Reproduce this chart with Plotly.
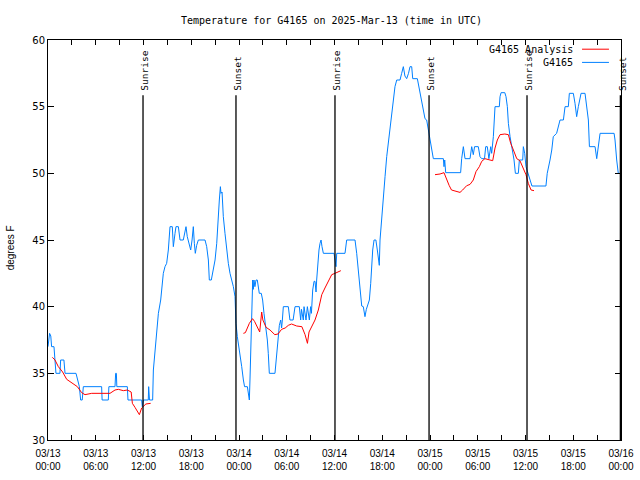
import datetime as dt
import plotly.graph_objects as go

START = dt.datetime(2025, 3, 13, 0, 0)

# Observed station temperature (hours since 03/13 00:00 UTC, degrees F)
obs_hours = [0.0, 0.1, 0.2, 0.35, 0.45, 0.75, 0.88, 1.0, 1.5, 1.59, 2.0, 2.14, 3.52, 3.94, 4.1, 4.3, 4.44,
             6.74, 6.8, 7.58, 7.65, 8.42, 8.5, 8.59, 8.65, 9.97, 10.05, 11.77, 11.85, 12.0, 12.6, 12.65, 12.75,
             13.15, 13.24, 13.45, 13.66, 13.87, 14.16, 14.49, 14.7, 14.91, 15.12, 15.33, 15.62, 15.75, 15.96,
             16.08, 16.38, 16.59, 17.0, 17.22, 17.34, 17.5, 17.76, 17.93, 18.1, 18.26, 18.39, 18.51, 18.68,
             18.89, 19.73, 19.94, 20.15, 20.27, 20.52, 20.77, 20.99, 21.2, 21.36, 21.53, 21.66, 21.74, 21.87,
             22.03, 22.24, 22.46, 22.66, 22.87, 23.08, 23.29, 23.5, 23.62, 23.79, 23.92, 24.13, 24.34, 24.55,
             24.7, 25.05, 25.17, 25.3, 25.38, 25.5, 25.63, 25.72, 25.8, 25.88, 26.0, 26.14, 26.3, 26.47, 26.55,
             26.8, 26.97, 27.14, 27.39, 27.56, 27.68, 27.81, 28.52, 28.65, 28.8, 28.94, 29.07, 29.24, 29.35,
             29.45, 29.57, 30.2, 30.4, 30.8, 31.04, 31.58, 31.75, 31.85, 32.08, 32.17, 32.42, 32.59, 32.84,
             33.0, 33.1, 33.26, 33.43, 33.55, 33.68, 33.76, 33.89, 34.05, 34.18, 34.31, 34.43, 34.6, 35.94,
             36.06, 36.19, 36.28, 37.32, 37.53, 38.58, 38.79, 38.99, 39.2, 39.42, 39.62, 39.83, 40.0, 40.13,
             40.38, 40.55, 40.8, 40.97, 41.2, 41.38, 41.51, 41.63, 41.72, 41.93, 42.14, 42.35, 42.56, 42.76,
             42.98, 43.19, 43.39, 43.6, 43.82, 44.23, 44.44, 44.65, 44.85, 45.07, 45.3, 45.49, 45.7, 45.83,
             46.41, 46.53, 46.75, 46.95, 47.16, 47.37, 47.58, 47.79, 48.0, 48.2, 48.42, 49.68, 49.76, 49.85,
             49.97, 51.85, 51.98, 52.19, 52.4, 53.03, 53.24, 53.44, 53.6, 54.07, 54.28, 54.5, 54.85, 55.0,
             55.2, 55.4, 55.63, 55.75, 55.96, 56.17, 56.71, 56.8, 56.93, 57.4, 57.55, 57.72, 57.85, 58.06,
             58.27, 58.56, 58.73, 59.1, 59.23, 59.65, 59.73, 59.9, 60.06, 60.35, 60.56, 60.81, 62.57, 62.73,
             63.08, 63.3, 63.49, 63.91, 64.34, 64.76, 64.97, 65.38, 65.51, 66.01, 66.22, 66.43, 66.64, 66.85,
             66.98, 67.48, 67.7, 67.9, 68.03, 68.74, 68.95, 69.16, 69.37, 71.13, 71.25, 71.46, 71.66, 71.88]
obs_temp = [37, 37.8, 38, 37.8, 37, 37, 36, 35, 35, 36, 36, 35, 35, 34, 33, 33, 34,
            34, 33, 33, 34, 34, 35, 35, 34, 34, 33, 33, 32.5, 33, 33, 34, 33,
            33, 35.25, 36.75, 38, 39.5, 40.5, 42.5, 43, 43.25, 44.25, 46, 46, 44.5, 45.5,
            46, 46, 45, 45, 45.75, 46, 45.25, 44.5, 44.25, 45, 46, 44.75, 44, 44.6,
            45, 45, 44.5, 43.5, 42, 42, 42.75, 43.5, 44.75, 46.75, 48, 49, 48.5, 48.6,
            46.75, 45.5, 44.25, 43.25, 42.5, 42, 41.5, 40.75, 38.75, 37.75, 37.25, 36.5, 35.5, 34.5,
            34, 34, 33.25, 33, 34.5, 37.5, 40.5, 42, 41.3, 42, 41.5, 42, 42, 41.5, 41,
            41, 40.5, 39.5, 38.5, 37.5, 36.5, 35, 35, 36, 37.25, 38, 38.6, 39, 38.4,
            39, 40, 40, 39, 39, 40, 40, 39, 39.8, 39, 40, 39, 40, 39,
            40, 39.5, 41.25, 41.9, 41.9, 41.1, 42, 43.25, 44.25, 44.75, 45, 44.5, 44, 44,
            43.6, 43, 44, 44, 45, 45, 44, 42.75, 41.25, 40.05, 40, 39.25, 39.8, 40,
            40.5, 41.75, 44.25, 45, 45, 44.25, 43.5, 43.1, 45, 46.75, 48.75, 49.75, 51.25, 52.25,
            53.5, 54.75, 55.75, 56.5, 57, 57, 57.5, 58, 57.3, 57.1, 57.5, 58, 58, 57.1,
            57.1, 56.75, 56, 55.5, 54.75, 54.1, 54, 53.25, 52.5, 52, 51.1, 51.1, 50.5, 51,
            50.05, 50.05, 51.1, 52, 51.1, 51.1, 52, 51.4, 52, 52, 51.25, 51.1, 51.1, 52,
            52, 51.1, 52, 51.5, 52.75, 55, 55, 55.75, 56.05, 56.05, 55.75, 55, 53.75, 52.75,
            52, 51, 50, 50, 51, 51, 52, 51.5, 50.5, 50, 49.5, 49.05, 49.05, 50,
            51, 51.75, 52.75, 53, 54, 54, 55, 55, 56, 56, 55.25, 54.25, 55, 55.75,
            56, 56, 55, 54, 52, 52, 51.1, 52, 53, 53, 52.5, 51, 50, 50]

# Analysis temperature (three separate runs, None marks the gaps)
ana_hours = [0.55, 0.88, 1.3, 1.84, 2.35, 2.97, 3.69, 4.23, 4.65, 5.49, 7.79, 8.42, 8.84, 9.47, 9.97,
             10.45, 10.6, 10.93, 11.48, 11.77, 12.3, 12.9, None,
             24.55, 24.8, 25.3, 25.7, 25.95, 26.4, 26.6, 26.85, 27.0, 27.4, 27.9, 28.5, 28.9, 29.35, 29.8,
             30.2, 30.6, 31.25, 31.9, 32.3, 32.6, 32.8, 33.1, 33.55, 33.97, 34.4, 34.8, 35.2, 35.65, 36.06,
             36.5, 36.8, None,
             48.63, 49.26, 49.76, 50.1, 50.4, 50.7, 51.1, 51.77, 52.1, 52.6, 53.03, 53.44, 53.78, 54.2,
             54.5, 54.9, 55.54, 55.88, 56.17, 56.46, 56.8, 57.4, 57.85, 58.14, 58.48, 58.9, 59.3, 59.65,
             60.06, 60.35, 60.7, 61.07]
ana_temp = [36.2, 36.0, 35.5, 35.1, 34.55, 34.3, 34.0, 33.55, 33.4, 33.5, 33.5, 33.75, 33.8, 33.7, 33.75,
            33.6, 32.75, 32.45, 31.9, 32.4, 32.7, 32.75, None,
            38.0, 38.05, 38.75, 39.1, 38.9, 38.4, 38.1, 39.6, 39.0, 38.45, 38.25, 37.9, 37.95, 38.3, 38.4,
            38.6, 38.7, 38.55, 38.5, 37.9, 37.25, 38.1, 38.5, 39.0, 39.75, 40.9, 41.4, 41.9, 42.4, 42.5,
            42.6, 42.7, None,
            49.9, 49.95, 50.05, 49.5, 49.1, 48.75, 48.7, 48.57, 48.75, 49.07, 49.17, 49.5, 50.13, 50.5,
            50.9, 51.1, 51.0, 50.95, 51.9, 52.5, 52.9, 52.95, 52.9, 52.25, 51.75, 51.1, 50.95, 50.4,
            49.9, 49.25, 48.75, 48.7]

# Sunrise / sunset events (hours since start)
sun_hours = [11.94, 23.62, 36.06, 47.88, 60.19, 71.92]
sun_labels = ["Sunrise", "Sunset", "Sunrise", "Sunset", "Sunrise", "Sunset"]

series_names = ["G4165 Analysis", "G4165"]
series_colors = ["#ff0000", "#0080ff"]

# x tick labels: date line and time line
tick_dates = ["03/13", "03/13", "03/13", "03/13", "03/14", "03/14", "03/14", "03/14",
              "03/15", "03/15", "03/15", "03/15", "03/16"]
tick_times = ["00:00", "06:00", "12:00", "18:00", "00:00", "06:00", "12:00", "18:00",
              "00:00", "06:00", "12:00", "18:00", "00:00"]

MONO = "DejaVu Sans Mono"
XFONT = dict(family="Liberation Sans", size=10, color="black")


def to_time(h):
    return None if h is None else START + dt.timedelta(hours=h)


fig = go.Figure()
fig.add_trace(go.Scatter(x=[to_time(h) for h in obs_hours], y=obs_temp, mode="lines",
                         line=dict(color=series_colors[1], width=1), name=series_names[1],
                         showlegend=False, hoverinfo="skip"))
fig.add_trace(go.Scatter(x=[to_time(h) for h in ana_hours], y=ana_temp, mode="lines",
                         line=dict(color=series_colors[0], width=1), name=series_names[0],
                         connectgaps=False, showlegend=False, hoverinfo="skip"))
# invisible trace to activate the second (time-of-day label) x axis
fig.add_trace(go.Scatter(x=[START], y=[None], xaxis="x2", yaxis="y", mode="lines",
                         showlegend=False, hoverinfo="skip"))

for h, lab in zip(sun_hours, sun_labels):
    t = to_time(h)
    fig.add_shape(type="line", xref="x", yref="y", x0=t, x1=t, y0=30, y1=55.85,
                  line=dict(color="black", width=1.3))
    fig.add_annotation(x=t, y=56.05, xref="x", yref="y", text=lab, textangle=-90,
                       showarrow=False, xanchor="center", yanchor="bottom", xshift=2,
                       font=dict(family=MONO, size=9.5, color="black"))

# gnuplot-style key in the upper right
key_y = [0.977, 0.944]
for i, (nm, col) in enumerate(zip(series_names, series_colors)):
    fig.add_annotation(x=0.919, y=key_y[i], xref="paper", yref="paper", text=nm,
                       showarrow=False, xanchor="right", yanchor="middle",
                       font=dict(family=MONO, size=10, color="black"))
    fig.add_shape(type="line", xref="paper", yref="paper", x0=0.932, x1=0.979,
                  y0=key_y[i], y1=key_y[i], line=dict(color=col, width=1))

# y-axis title placed like gnuplot's
fig.add_annotation(x=-0.065, y=0.481, xref="paper", yref="paper", text="degrees F", textangle=-90,
                   showarrow=False, xanchor="center", yanchor="middle",
                   font=dict(family="Liberation Sans", size=10, color="black"))

tick_vals = [START + dt.timedelta(hours=6 * i) for i in range(13)]
x_range = [START, START + dt.timedelta(hours=72)]

fig.update_layout(
    width=640, height=480,
    margin=dict(l=48, r=19, t=40, b=40, autoexpand=False),
    paper_bgcolor="white", plot_bgcolor="white",
    title=dict(text="Temperature for G4165 on 2025-Mar-13 (time in UTC)", x=0.518, xanchor="center",
               y=0.958, yanchor="middle", font=dict(family=MONO, size=10, color="black")),
    showlegend=False,
    xaxis=dict(range=x_range, autorange=False, tickvals=tick_vals, ticktext=tick_dates,
               ticks="inside", ticklen=5, tickcolor="black", showline=True, linecolor="black",
               linewidth=1, mirror="ticks", showgrid=False, zeroline=False, automargin=False,
               ticklabelstandoff=4, tickfont=XFONT,
               minor=dict(dtick=3 * 3600 * 1000, ticks="inside", ticklen=5, tickcolor="black",
                          showgrid=False, tick0=START)),
    xaxis2=dict(overlaying="x", anchor="y", side="bottom", range=x_range, autorange=False,
                tickvals=tick_vals, ticktext=tick_times, ticks="", showline=False, showgrid=False,
                zeroline=False, automargin=False, ticklabelstandoff=19, tickfont=XFONT),
    yaxis=dict(range=[30, 60], autorange=False, dtick=5, ticks="inside", ticklen=6, tickcolor="black",
               showline=True, linecolor="black", linewidth=1, mirror="ticks", showgrid=False,
               zeroline=False, automargin=False,
               tickfont=dict(family="DejaVu Sans", size=10, color="black")),
)

fig.write_html("out.html", config={"displayModeBar": False},
               post_script="document.body.style.margin='0px';")
